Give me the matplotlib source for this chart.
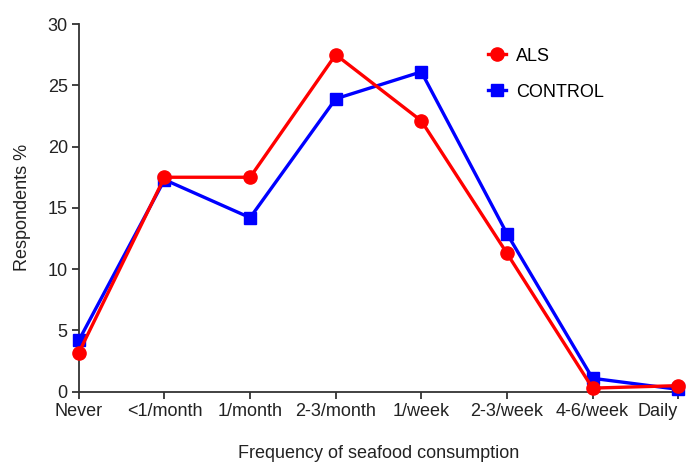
import numpy as np
import matplotlib.pyplot as plt

plt.rcParams['font.family'] = ['Liberation Sans', 'DejaVu Sans']

categories = ["Never", "<1/month", "1/month", "2-3/month", "1/week", "2-3/week", "4-6/week", "Daily"]
als = [3.2, 17.5, 17.5, 27.5, 22.1, 11.3, 0.3, 0.5]
control = [4.2, 17.3, 14.2, 23.9, 26.1, 12.9, 1.1, 0.2]

x = np.arange(len(categories))

fig = plt.figure(figsize=(6.92, 4.62), dpi=100)
ax = fig.add_axes([0.114, 0.152, 0.866, 0.796])

ax.plot(x, control, color="#0000ff", marker="s", markersize=8, linewidth=2.4,
        label="CONTROL", zorder=3, clip_on=False)
ax.plot(x, als, color="#ff0000", marker="o", markersize=9.5, linewidth=2.4,
        label="ALS", zorder=4, clip_on=False)

ax.set_xlim(0, 7)
ax.set_ylim(0, 30)
ax.set_yticks([0, 5, 10, 15, 20, 25, 30])
ax.set_xticks(x)
ax.set_xticklabels(categories)

for s in ["top", "right"]:
    ax.spines[s].set_visible(False)
for s in ["left", "bottom"]:
    ax.spines[s].set_linewidth(1.3)
    ax.spines[s].set_color("#333333")

ax.tick_params(axis="both", direction="out", length=5, width=1.3, color="#333333",
               labelsize=13, labelcolor="#222222", pad=3)
# last label sits right at the figure edge, nudge it inward a little
ax.get_xticklabels()[-1].set_horizontalalignment("right")
ax.get_xticklabels()[-1].set_x(7.14)

ax.set_ylabel("Respondents %", fontsize=13, color="#222222", labelpad=12)
ax.set_xlabel("Frequency of seafood consumption", fontsize=13, color="#222222", labelpad=18)

handles, labels = ax.get_legend_handles_labels()
ax.legend(handles[::-1], labels[::-1], loc="upper left", bbox_to_anchor=(0.655, 0.98),
          frameon=False, fontsize=13, handlelength=1.0, labelspacing=1.05,
          handletextpad=0.55)

fig.savefig("out.png", dpi=100)
